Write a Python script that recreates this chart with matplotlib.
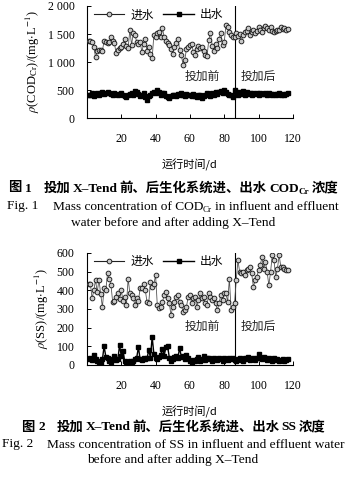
import numpy as np
import matplotlib
matplotlib.use("Agg")
import matplotlib.pyplot as plt
from matplotlib.lines import Line2D

# ---------------- data ----------------
cod_in = [1380, 1370, 1360, 1275, 1085, 1190, 1215, 1220, 1200, 1375,
          1360, 1340, 1360, 1440, 1380, 1340, 1155, 1210, 1250, 1260,
          1320, 1420, 1280, 1250, 1570, 1310, 1510, 1480, 1360, 1330,
          1360, 1180, 1330, 1420, 1200, 1270, 1150, 1070, 1480, 1450,
          1510, 1540, 1450, 1600, 1450, 1380, 1340, 1310, 1230, 1150,
          1260, 1340, 1420, 1220, 1125, 950, 1040, 1230, 1260, 1300,
          1330, 1180, 1120, 1240, 1280, 1250, 1270, 1200, 1130, 1100,
          1400, 1520, 1290, 1200, 1330, 1250, 1410, 1520, 1310, 1350,
          1660, 1630, 1540, 1480, 1450, 1440, 1520, 1470, 1500, 1380,
          1480, 1530, 1550, 1600, 1480, 1540, 1570, 1510, 1560, 1620,
          1570, 1540, 1600, 1640, 1600, 1580, 1620, 1560, 1540, 1550,
          1580, 1570, 1620, 1590, 1600, 1570, 1590]
cod_out = [420, 410, 440, 400, 430, 450, 420, 440, 460, 430,
           440, 470, 450, 430, 420, 440, 430, 410, 430, 440,
           420, 400, 380, 410, 430, 440, 420, 480, 460, 430,
           400, 420, 440, 380, 330, 390, 420, 450, 470, 440,
           500, 460, 420, 440, 450, 400, 380, 350, 390, 410,
           420, 400, 430, 410, 440, 420, 400, 430, 410, 420,
           390, 430, 400, 380, 420, 410, 360, 400, 420, 440,
           430, 400, 450, 420, 460, 430, 470, 490, 440, 500,
           470, 430, 420, 410, 380, 500,
           460, 410, 470, 430, 480, 420, 460, 430, 450, 420,
           440, 430, 450, 420, 440, 430, 430, 440, 420, 440,
           430, 420, 430, 420, 430, 440, 420, 430, 420, 430, 440]
ss_in = [436, 436, 356, 400, 454, 390, 457, 380, 310, 410,
         400, 490, 463, 427, 338, 345, 365, 383, 355, 400,
         345, 365, 320, 463, 383, 375, 356, 320, 356, 345,
         410, 410, 436, 400, 338, 330, 445, 418, 436, 480,
         320, 303, 312, 338, 374, 391, 356, 330, 267, 312,
         338, 365, 374, 338, 320, 285, 294, 312, 365, 374,
         330, 356, 365, 312, 347, 383, 356, 365, 330, 320,
         383, 365, 347, 356, 330, 294, 330, 374, 347, 383,
         383, 338, 463, 294, 312, 330,
         454, 560, 498, 490, 498, 480, 507, 516, 525, 490,
         418, 454, 472, 507, 534, 578, 516, 552, 498, 427,
         498, 587, 560, 472, 516, 587, 525, 525, 516, 507, 510]
ss_out = [30, 40, 25, 55, 30, 20, 15, 10, 30, 100,
          45, 40, 20, 15, 30, 50, 25, 30, 105, 50,
          75, 20, 15, 10, 20, 15, 20, 30, 40, 95,
          30, 25, 40, 30, 35, 80, 40, 150, 60, 40,
          30, 45, 55, 85, 50, 95, 100, 40, 20, 30,
          45, 50, 40, 90, 45, 50, 30, 55, 40, 20,
          15, 25, 20, 30, 45, 20, 30, 50, 25, 35,
          40, 30, 20, 35, 30, 25, 40, 30, 20, 35,
          30, 25, 40, 30, 35, 25,
          20, 30, 40, 25, 20, 35, 30, 45, 25, 30,
          40, 25, 35, 60, 40, 30, 45, 35, 25, 40,
          30, 20, 35, 25, 30, 20, 25, 30, 20, 25, 30]
days = np.arange(1, len(cod_in) + 1)
switch_day = 86
xticks = [20, 40, 60, 80, 100, 120]
legend_labels = ["进水", "出水"]

SERIF = ["Liberation Serif", "Noto Sans CJK SC"]
CJK = ["Noto Sans CJK SC", "DejaVu Sans"]
plt.rcParams["mathtext.fontset"] = "stix"
plt.rcParams["font.family"] = SERIF

W, H = 352, 480
fig = plt.figure(figsize=(W / 100, H / 100), dpi=100)


def panel(rect, yin, yout, ymax, ystep, ylabel, yfmt, txt_y):
    ax = fig.add_axes(rect)
    ax.plot(days, yin, color="#555555", lw=0.6, marker="o", ms=3.4,
            mfc="#c8c8c8", mec="#1a1a1a", mew=0.65, zorder=3)
    ax.plot(days, yout, color="black", lw=1.0, marker="s", ms=3.3,
            mfc="black", mec="black", zorder=3)
    ax.axvline(switch_day, color="black", lw=0.8)
    ax.set_xlim(0, 120)
    ax.set_ylim(0, ymax)
    ax.set_xticks(xticks)
    ax.set_yticks(np.arange(0, ymax + 1, ystep))
    ax.set_yticklabels([yfmt(v) for v in np.arange(0, ymax + 1, ystep)])
    for s in ["top", "right"]:
        ax.spines[s].set_visible(False)
    for s in ["left", "bottom"]:
        ax.spines[s].set_linewidth(0.8)
    ax.tick_params(axis="x", direction="in", length=3, width=0.7,
                   labelsize=8.5, pad=11)
    ax.tick_params(axis="y", direction="in", length=3, width=0.7,
                   labelsize=8.5, pad=9)
    for t in ax.get_xticklabels() + ax.get_yticklabels():
        t.set_family(SERIF)
    ax.set_ylabel(ylabel, fontsize=9, family=SERIF, labelpad=4)
    ax.set_xlabel("运行时间/d", fontsize=8, family=CJK, labelpad=10)
    ax.text(67, txt_y, "投加前", family=CJK, fontsize=8.5, ha="center",
            va="center", color="#222222")
    ax.text(100, txt_y, "投加后", family=CJK, fontsize=8.5, ha="center",
            va="center", color="#222222")
    handles = [
        Line2D([], [], color="#222222", lw=0.8, marker="o", ms=3.4,
               mfc="#c8c8c8", mec="#1a1a1a", mew=0.65),
        Line2D([], [], color="black", lw=1.0, marker="s", ms=3.4,
               mfc="black", mec="black"),
    ]
    ax.legend(handles, legend_labels, loc="upper left", ncol=2,
              frameon=False, prop={"family": CJK, "size": 8.5},
              handlelength=2.6, handletextpad=0.5, columnspacing=0.8,
              borderaxespad=0.0, bbox_to_anchor=(0.01, 1.02))
    return ax


def fmt_space(v):
    v = int(v)
    if v >= 1000:
        return f"{v // 1000} {v % 1000:03d}"
    return str(v)


panel([0.247, 0.754, 0.585, 0.2335], cod_in, cod_out, 2000, 500,
      r"$\rho$(COD$_{\rm Cr}$)/(mg$\cdot$L$^{-1}$)", fmt_space, 750)
panel([0.247, 0.2396, 0.585, 0.2335], ss_in, ss_out, 600, 100,
      r"$\rho$(SS)/(mg$\cdot$L$^{-1}$)", lambda v: str(int(v)), 209)

FS = 9.6


def rich_line(ypix, runs, cx=173):
    """runs: list of (text, family, weight, is_sub, gap_before_px)"""
    texts = []
    for s, fam, wt, sub, gap in runs:
        t = fig.text(0, 0, s, family=fam, fontweight=wt,
                     fontsize=FS * (0.68 if sub else 1.0),
                     ha="left", va="baseline")
        texts.append((t, sub, gap))
    fig.canvas.draw()
    r = fig.canvas.get_renderer()
    widths = [t.get_window_extent(r).width for t, _, _ in texts]
    total = sum(widths) + sum(g for _, _, g in texts)
    x = cx - total / 2
    base = H - ypix - 3.5
    for (t, sub, gap), w in zip(texts, widths):
        x += gap
        t.set_position((x / W, (base - (2.5 if sub else 0)) / H))
        x += w


rich_line(188, [("图", CJK, "bold", False, 0), ("1", SERIF, "bold", False, 4),
                ("投加", CJK, "bold", False, 12), ("X–Tend", SERIF, "bold", False, 2),
                ("前、后生化系统进、出水", CJK, "bold", False, 2),
                ("COD", SERIF, "bold", False, 2), ("Cr", SERIF, "bold", True, 0),
                ("浓度", CJK, "bold", False, 2)])
rich_line(206, [("Fig. 1", SERIF, "normal", False, 0),
                ("Mass concentration of COD", SERIF, "normal", False, 14),
                ("Cr", SERIF, "normal", True, 0),
                ("in influent and effluent", SERIF, "normal", False, 3)])
rich_line(222, [("water before and after adding X–Tend", SERIF, "normal", False, 0)])
rich_line(427, [("图", CJK, "bold", False, 0), ("2", SERIF, "bold", False, 4),
                ("投加", CJK, "bold", False, 12), ("X–Tend", SERIF, "bold", False, 2),
                ("前、后生化系统进、出水", CJK, "bold", False, 2),
                ("SS", SERIF, "bold", False, 2),
                ("浓度", CJK, "bold", False, 2)])
rich_line(444, [("Fig. 2", SERIF, "normal", False, 0),
                ("Mass concentration of SS in influent and effluent water",
                 SERIF, "normal", False, 14)])
rich_line(460, [("before and after adding X–Tend", SERIF, "normal", False, 0)])

fig.savefig("out.png", dpi=100)
